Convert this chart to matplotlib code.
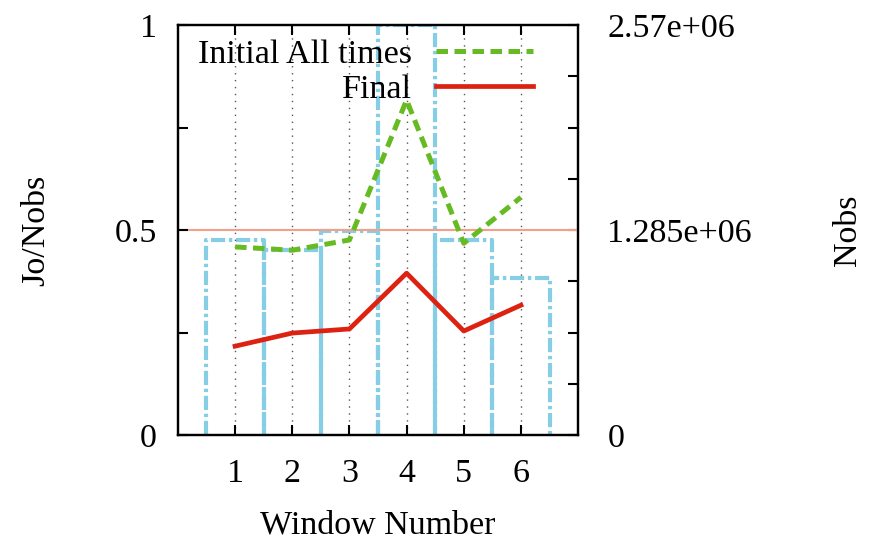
import matplotlib
matplotlib.use("Agg")
import matplotlib.pyplot as plt
import numpy as np

windows = [1, 2, 3, 4, 5, 6]
initial_all = [0.459, 0.451, 0.476, 0.817, 0.468, 0.580]
final = [0.217, 0.249, 0.259, 0.395, 0.254, 0.317]
nobs = [1.223e6, 1.160e6, 1.280e6, 2.570e6, 1.223e6, 0.984e6]
nobs_max = 2.57e6

plt.rcParams['font.family'] = ['Liberation Serif', 'DejaVu Serif']
plt.rcParams['font.size'] = 24.5

fig = plt.figure(figsize=(8.72, 5.44), dpi=100)
ax = fig.add_axes([0.204, 0.2, 0.459, 0.754])
ax2 = ax.twinx()

# histogram boxes on y2
for w, n in zip(windows, nobs):
    xs = [w - 0.5, w - 0.5, w + 0.5, w + 0.5]
    ys = [0, n, n, 0]
    ax2.plot(xs, ys, color='#86cde6', lw=3.0, linestyle=(0, (3.4, 0.9, 0.8, 0.9)), zorder=2)
ax2.set_ylim(0, nobs_max)
ax2.set_yticks(np.linspace(0, nobs_max, 9))
ax2.set_yticklabels(['0', '', '', '', '1.285e+06', '', '', '', '2.57e+06'])
ax2.set_ylabel('Nobs', labelpad=58)

ax.set_zorder(ax2.get_zorder() + 1)
ax.patch.set_visible(False)

for w in windows:
    ax.axvline(w, color='#555555', lw=1.0, linestyle=(0, (1, 4)), zorder=1)
ax.axhline(0.5, color='#f4a088', lw=1.5, zorder=1)

ax.plot(windows, initial_all, color='#66bb22', lw=3.6, linestyle=(0, (2.3, 1.3)), label='Initial All times', zorder=3)
ax.plot(windows, final, color='#dd2211', lw=3.4, label='Final', zorder=3)

ax.set_xlim(0, 7)
ax.set_ylim(0, 1)
ax.set_xticks(windows)
ax.set_yticks([0, 0.25, 0.5, 0.75, 1])
ax.set_yticklabels(['0', '', '0.5', '', '1'])
ax.set_xlabel('Window Number', labelpad=15)
ax.set_ylabel('Jo/Nobs', labelpad=46)

for a in (ax, ax2):
    a.tick_params(direction='in', length=7, width=1.5)
    for s in a.spines.values():
        s.set_linewidth(1.6)
ax.tick_params(axis='x', top=True, pad=17)
ax.tick_params(axis='y', pad=15)
ax2.tick_params(axis='y', pad=21)

leg = ax.legend(loc='upper right', bbox_to_anchor=(0.8875, 0.965), frameon=False,
                markerfirst=False, handlelength=2.86, handletextpad=0.7,
                labelspacing=0.12, borderaxespad=0, borderpad=0)
for t in leg.get_texts():
    t.set_ha('right')
leg._legend_box.align = 'right'

fig.savefig('out.png', dpi=100)
